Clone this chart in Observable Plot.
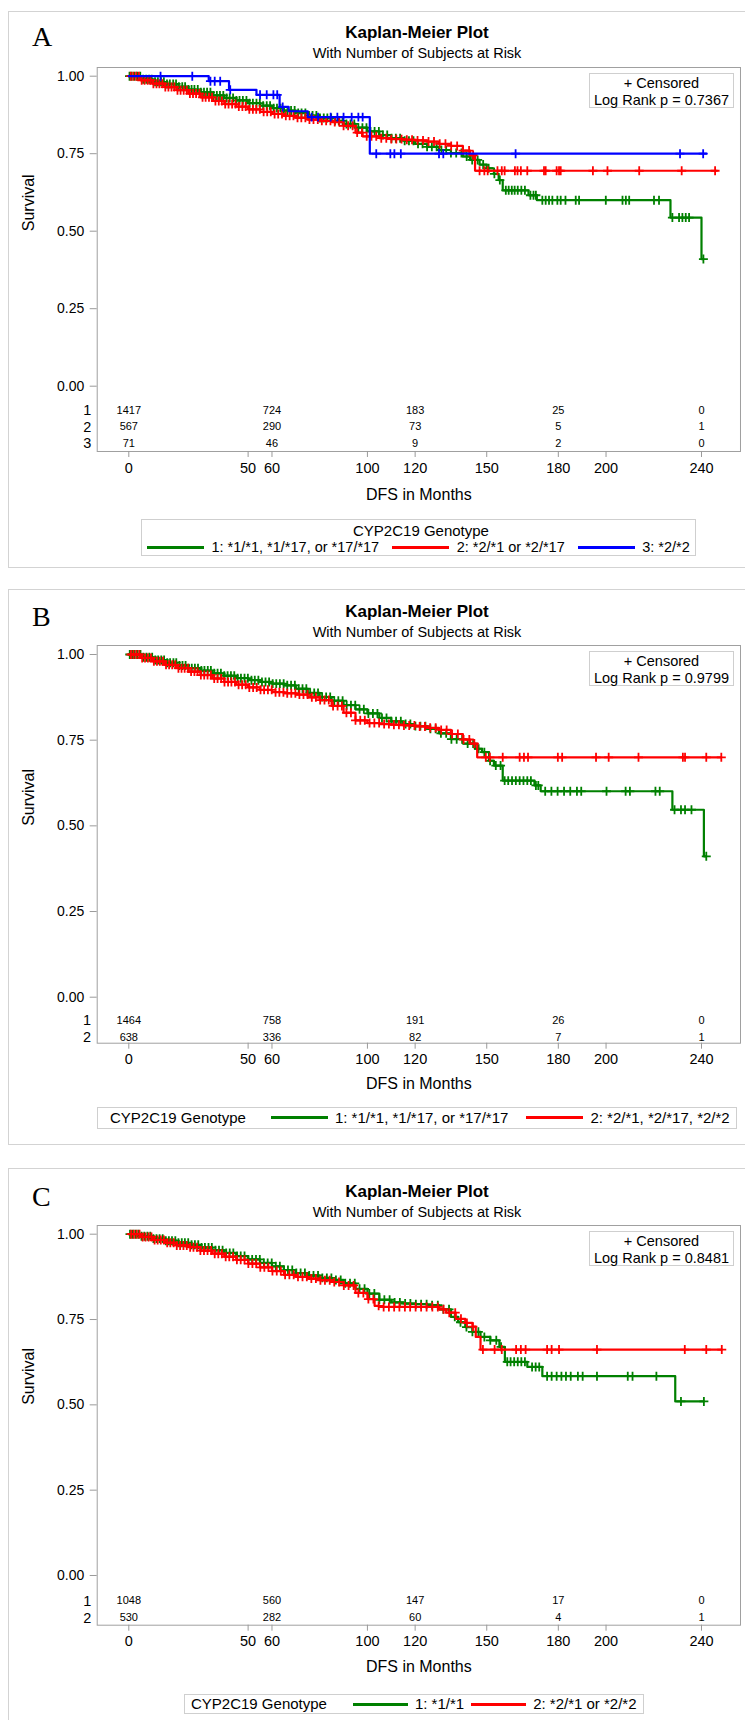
<!DOCTYPE html>
<html><head><meta charset="utf-8">
<script src="https://cdn.jsdelivr.net/npm/d3@7"></script>
<script src="https://cdn.jsdelivr.net/npm/@observablehq/plot@0.6"></script>
<style>
body{margin:0;background:#fff;font-family:"Liberation Sans",Arial,sans-serif;color:#000;}
#page{position:relative;width:745px;height:1720px;overflow:hidden;background:#fff;}
.panel{position:absolute;border:1px solid #d3d3d3;box-sizing:border-box;}
.letter{position:absolute;font-family:"Liberation Serif","Times New Roman",serif;font-size:28px;line-height:28px;}
.ttl{position:absolute;left:217px;width:400px;text-align:center;font-weight:bold;font-size:17px;line-height:20px;white-space:nowrap;}
.sub{position:absolute;left:217px;width:400px;text-align:center;font-size:14.5px;line-height:18px;white-space:nowrap;}
.inset{position:absolute;border:1px solid #cfcfcf;box-sizing:border-box;text-align:center;font-size:14.5px;line-height:16.5px;padding-top:1px;white-space:nowrap;}
.legend{position:absolute;border:1px solid #cfcfcf;box-sizing:border-box;line-height:16px;white-space:nowrap;}
.legend .lt{text-align:center;}
.legend .row{display:flex;align-items:center;}
.sw{display:inline-block;height:3px;}
svg{position:absolute;left:0;}
</style></head>
<body><div id="page"></div>
<script>
const GREEN = "#008000", RED = "#ff0000", BLUE = "#0000ff";

const timeTicks = [0, 50, 60, 100, 120, 150, 180, 200, 240];
const survTicks = [0, 0.25, 0.5, 0.75, 1];
const riskTimes = [0, 60, 120, 180, 240];

// ---------- Panel A ----------
const kmA1 = [[0,1],[5,.99],[10,.982],[15,.975],[20,.966],[25,.957],[30,.948],[35,.938],[40,.93],[45,.922],[50,.913],[55,.905],[60,.897],[65,.889],[70,.881],[75,.873],[80,.865],[85,.856],[90,.846],[95,.834],[100,.822],[105,.81],[110,.8],[115,.792],[120,.782],[125,.772],[130,.762],[135,.752],[140,.741],[143,.73],[147,.715],[150,.703],[153,.685],[155,.665],[156.7,.632],[167.5,.616],[171,.6],[227,.544],[240,.41],[240.8,.41]];
const censA1 = [0.3,1.2,2.4,3.5,4.8,6,7.3,8.5,9.6,11,12.2,13.5,14.7,16,17.2,18.6,19.8,21,22.4,23.6,25,26.3,27.5,28.9,30.2,31.5,32.8,34.2,35.5,36.9,38.2,39.6,41,42.3,43.7,45.1,46.4,47.8,49.3,50.6,52,53.5,54.9,56.3,57.8,59.2,60.7,62.1,63.6,65,66.5,68,69.5,71,72.4,74,75.5,77,78.6,80.1,81.7,83.2,84.8,86.4,88,89.6,91.2,92.9,94.5,96.2,97.9,99.6,101.3,103,104.8,106.5,108.3,110.1,111.9,113.7,115.6,117.4,119.3,121.2,123.1,125,127,129,131,133,135,137.2,139.4,141.6,143.9,146.2,148.5,150.8,153.2,155.5,158,159.2,160.5,161.7,163,164.5,166,168.3,169.6,170.6,173.3,174.7,176.1,177.5,179.6,181,183,187.3,188.7,199.9,206.9,208.3,209.7,220.1,222.2,227.8,230.6,232,233.4,234.8,240.8];
const kmA2 = [[0,1],[5,.987],[10,.976],[15,.965],[20,.955],[25,.944],[30,.932],[35,.92],[40,.91],[45,.902],[50,.893],[55,.885],[60,.878],[65,.872],[70,.866],[75,.86],[80,.856],[85,.852],[90,.84],[95,.818],[98,.806],[105,.8],[110,.797],[115,.795],[120,.793],[125,.789],[130,.782],[135,.775],[140,.76],[143,.745],[145.1,.695],[246.5,.695]];
const censA2 = [0.8,1.9,3.1,4.2,5.4,6.6,7.9,9.1,10.3,11.6,12.8,14.1,15.3,16.6,17.9,19.1,20.4,21.7,23,24.3,25.6,26.9,28.2,29.6,30.9,32.2,33.6,34.9,36.3,37.7,39,40.4,41.8,43.3,44.7,46.1,47.6,49,50.5,52,53.4,54.9,56.5,58,59.5,61.1,62.6,64.2,65.8,67.4,69,70.7,72.3,74,75.7,77.4,79.2,80.9,82.7,84.5,86.3,88.2,90,91.9,93.8,95.7,97.7,99.7,101.7,103.7,105.8,107.9,110,112.1,114.3,116.5,118.7,121,123.3,125.6,127.9,130.3,132.7,135.1,137.6,140.1,142.6,144.3,147,149,150.4,154.5,156.3,157.5,161.8,162.9,164.3,167,174,174.7,179.3,180.3,181,194.5,200.6,213.9,231.7,245.7];
const kmA3 = [[0,1],[33.5,.984],[42,.956],[53.5,.94],[63.2,.901],[67,.887],[75,.868],[101,.75],[242,.75]];
const censA3 = [13.3,26.6,34.2,36,38.3,42.5,55,57.8,60.6,62.2,64.5,76.6,79.3,84.6,87.4,90,93.4,96.2,98,103.7,109.6,111.3,114,130,131.8,162.1,231,240.7];
const riskA1 = [1417, 724, 183, 25, 0];
const riskA2 = [567, 290, 73, 5, 1];
const riskA3 = [71, 46, 9, 2, 0];

// ---------- Panel B ----------
const kmB1 = [[0,1],[5,.992],[10,.984],[15,.976],[20,.968],[25,.96],[30,.953],[35,.945],[40,.938],[45,.931],[50,.925],[55,.92],[60,.915],[65,.91],[70,.9],[75,.888],[80,.876],[85,.865],[90,.852],[95,.84],[100,.828],[105,.815],[110,.805],[115,.797],[120,.791],[125,.783],[130,.77],[135,.753],[140,.74],[145,.725],[148,.715],[151,.69],[153,.676],[156.7,.632],[170,.618],[172.6,.601],[227.8,.547],[241,.411],[242,.411]];
const censB1 = [0.4,1.4,2.5,3.7,4.9,6.1,7.4,8.6,9.8,11.1,12.3,13.6,14.8,16.1,17.3,18.7,19.9,21.2,22.5,23.8,25.1,26.4,27.7,29,30.4,31.7,33.1,34.4,35.8,37.2,38.6,40,41.4,42.8,44.2,45.6,47,48.5,49.9,51.4,52.8,54.3,55.8,57.3,58.8,60.3,61.8,63.3,64.9,66.4,68,69.6,71.2,72.8,74.4,76,77.7,79.3,81,82.7,84.4,86.1,87.8,89.6,91.3,93.1,94.9,96.7,98.5,100.4,102.3,104.2,106.1,108,110,112,114,116,118,120.1,122.2,124.3,126.4,128.6,130.8,133,135.2,137.4,139.7,142,144.3,146.6,149,151.4,153.8,155.8,157.5,159,160.6,162.2,163.8,165.4,167,168.5,170.6,171.6,174.5,177.1,179.7,182.4,185,187.8,189.6,200.2,208.2,210,220.7,222.5,228.7,231.4,233.1,235.8,242];
const kmB2 = [[0,1],[5,.99],[10,.98],[15,.97],[20,.96],[25,.95],[30,.94],[35,.93],[40,.92],[45,.912],[50,.904],[55,.897],[60,.89],[65,.887],[70,.883],[75,.875],[80,.867],[85,.85],[90,.83],[95,.808],[100,.8],[105,.797],[110,.795],[115,.793],[120,.79],[125,.786],[130,.78],[135,.768],[140,.752],[143,.74],[146,.7],[248.3,.7]];
const censB2 = [0.9,2,3.2,4.4,5.6,6.8,8,9.3,10.5,11.8,13,14.3,15.6,16.9,18.2,19.5,20.8,22.1,23.4,24.8,26.1,27.5,28.8,30.2,31.6,33,34.4,35.8,37.2,38.7,40.1,41.6,43,44.5,46,47.5,49,50.5,52.1,53.6,55.2,56.7,58.3,59.9,61.5,63.1,64.8,66.4,68.1,69.8,71.5,73.2,74.9,76.7,78.4,80.2,82,83.8,85.6,87.5,89.3,91.2,93.1,95,97,98.9,100.9,102.9,104.9,107,109,111.1,113.2,115.3,117.5,119.7,121.9,124.1,126.3,128.6,130.9,133.2,135.5,137.9,140.3,142.7,144.8,149.6,151.3,156.7,163.8,165.6,167.3,179.8,181.6,195.8,201.1,213.6,232.2,233.1,242,248.3];
const riskB1 = [1464, 758, 191, 26, 0];
const riskB2 = [638, 336, 82, 7, 1];

// ---------- Panel C ----------
const kmC1 = [[0,1],[5,.994],[10,.987],[15,.981],[20,.975],[25,.969],[30,.961],[35,.953],[40,.945],[45,.936],[50,.926],[55,.916],[60,.906],[65,.895],[70,.886],[75,.879],[80,.872],[85,.866],[90,.856],[95,.84],[100,.826],[105,.808],[110,.8],[115,.797],[120,.795],[125,.792],[130,.78],[135,.758],[138,.742],[141,.728],[144,.714],[147.4,.699],[151.5,.689],[155.3,.67],[157.6,.626],[167,.611],[173.3,.584],[229,.51],[241,.51]];
const censC1 = [0.5,1.6,2.8,4,5.3,6.5,7.8,9,10.3,11.6,12.9,14.2,15.5,16.8,18.1,19.5,20.8,22.2,23.5,24.9,26.3,27.7,29.1,30.5,31.9,33.4,34.8,36.3,37.8,39.3,40.8,42.3,43.8,45.4,46.9,48.5,50.1,51.7,53.3,54.9,56.6,58.2,59.9,61.6,63.3,65,66.7,68.5,70.2,72,73.8,75.6,77.4,79.3,81.1,83,84.9,86.8,88.8,90.7,92.7,94.7,96.7,98.8,100.8,102.9,105,107.1,109.3,111.4,113.6,115.8,118,120.3,122.5,124.8,127.1,129.5,131.8,134.2,136.6,139,141.5,144,146.5,149,151.5,154,156,158.6,160,161.5,163,164.5,166,169,170.5,172,175.3,177.2,179.3,181.3,183.2,185.2,188.2,190.2,196.2,209.1,211.1,221.1,231.4,241];
const kmC2 = [[0,1],[5,.992],[10,.983],[15,.975],[20,.967],[25,.962],[30,.952],[35,.943],[40,.934],[45,.925],[50,.914],[55,.903],[60,.892],[65,.881],[70,.875],[75,.87],[80,.865],[85,.86],[90,.85],[95,.828],[100,.81],[103,.79],[105,.787],[130,.78],[133,.77],[137,.752],[141,.74],[144,.729],[145.4,.699],[147.4,.662],[248.5,.662]];
const censC2 = [1,2.1,3.3,4.5,5.8,7,8.3,9.5,10.8,12.1,13.4,14.7,16.1,17.4,18.8,20.1,21.5,22.9,24.3,25.7,27.1,28.6,30,31.5,33,34.5,36,37.5,39,40.6,42.1,43.7,45.3,46.9,48.5,50.1,51.8,53.4,55.1,56.8,58.5,60.2,62,63.7,65.5,67.3,69.1,70.9,72.8,74.6,76.5,78.4,80.3,82.2,84.2,86.1,88.1,90.1,92.1,94.2,96.2,98.3,100.4,102.5,104.7,106.8,109,111.2,113.4,115.7,117.9,120.2,122.5,124.8,127.2,129.5,131.9,134.3,136.8,139.2,141.7,144.2,148.4,153.3,156.3,162.3,164.3,166.3,175.3,177.2,180.3,196.2,233,242,248.5];
const riskC1 = [1048, 560, 147, 17, 0];
const riskC2 = [530, 282, 60, 4, 1];

// ---------- helpers ----------
function survAt(km, t) {
  let s = km[0][1];
  for (const [tt, v] of km) { if (tt <= t) s = v; else break; }
  return s;
}
const page = document.getElementById("page");
function el(cls, css, html) {
  const d = document.createElement("div");
  d.className = cls;
  Object.assign(d.style, css);
  if (html != null) d.innerHTML = html;
  page.appendChild(d);
  return d;
}
const FRAME_L = 96.7, FRAME_R = 740, X0PX = 128.3, X240PX = 701;
const pxPerMonth = (X240PX - X0PX) / 240;
const xDomain = [(FRAME_L - X0PX) / pxPerMonth, (FRAME_R - X0PX) / pxPerMonth];

function makePanel(cfg) {
  el("panel", {left: "8px", top: cfg.top + "px", width: "745px", height: (cfg.bottom - cfg.top) + "px"});
  el("letter", {left: "32px", top: (cfg.letterBase - 23.4) + "px"}, cfg.letter);
  el("ttl", {top: (cfg.titleY - 10) + "px"}, "Kaplan-Meier Plot");
  el("sub", {top: (cfg.subY - 9) + "px"}, "With Number of Subjects at Risk");

  const pxUnit = cfg.y0 - cfg.y1;
  const yMax = 1 + (cfg.y1 - cfg.frameTop) / pxUnit;
  const yMin = -(cfg.frameBottom - cfg.y0) / pxUnit;
  const svgTop = cfg.frameTop - 2;
  const svgBottom = cfg.dfsY + 14;
  const H = svgBottom - svgTop;

  const marks = [];
  cfg.series.forEach(s => {
    marks.push(Plot.line(s.km, {x: d => d[0], y: d => d[1], curve: "step-after", stroke: s.color, strokeWidth: 2.2}));
    marks.push(Plot.dot(s.cens, {x: d => d, y: d => survAt(s.km, d), symbol: "plus", r: 3, stroke: s.color, strokeWidth: 1.8}));
  });
  marks.push(Plot.frame({stroke: "#a0a0a0"}));
  marks.push(Plot.axisY(survTicks, {tickFormat: d3.format(".2f"), tickSize: 7, tickPadding: 6, fontSize: 14, stroke: "#9a9a9a", fill: "#000", label: null}));
  marks.push(Plot.axisX(timeTicks, {anchor: "bottom", tickSize: 6, tickPadding: 5, fontSize: 14.5, stroke: "#9a9a9a", fill: "#000", label: null}));
  marks.push(Plot.text([0.5], {y: d => d, text: () => "Survival", frameAnchor: "left", dx: -68, rotate: -90, fontSize: 16, fill: "#000"}));
  marks.push(Plot.text(["DFS in Months"], {frameAnchor: "bottom", dy: cfg.dfsY - cfg.frameBottom, fontSize: 16, fill: "#000"}));
  cfg.risk.forEach((row, i) => {
    marks.push(Plot.text(riskTimes, {x: d => d, y: () => 0, dy: cfg.rowDy[i], text: (d, j) => String(row[j]), fontSize: 11, fill: "#000"}));
    marks.push(Plot.text([String(i + 1)], {y: () => 0, frameAnchor: "left", dx: -6, dy: cfg.rowDy[i], textAnchor: "end", fontSize: 14.5, fill: "#000"}));
  });

  const svg = Plot.plot({
    width: 745, height: H,
    marginLeft: FRAME_L, marginRight: 745 - FRAME_R,
    marginTop: cfg.frameTop - svgTop, marginBottom: svgBottom - cfg.frameBottom,
    x: {domain: xDomain},
    y: {domain: [yMin, yMax]},
    style: {fontFamily: '"Liberation Sans", Arial, sans-serif', color: "#000", background: "transparent", overflow: "visible"},
    marks
  });
  svg.style.top = svgTop + "px";
  page.appendChild(svg);

  el("inset", {left: "589px", top: (cfg.frameTop + 6) + "px", width: "145px", height: "35px"},
     "+ Censored<br>Log Rank p = " + cfg.p);

  const lg = cfg.legend;
  const items = cfg.series.map((s, i) =>
    `<span class="sw" style="width:${lg.sw}px;background:${s.color};margin-right:${lg.g1}px"></span><span style="margin-right:${i < cfg.series.length - 1 ? lg.g2 : 0}px">${cfg.labels[i]}</span>`
  ).join("");
  if (lg.stacked) {
    el("legend", {left: lg.left + "px", top: lg.top + "px", width: lg.width + "px", height: lg.height + "px", paddingTop: "3px", paddingLeft: lg.pad + "px", fontSize: lg.fs + "px"},
       `<div class="lt" style="font-size:15px">CYP2C19 Genotype</div><div class="row">${items}</div>`);
  } else {
    el("legend", {left: lg.left + "px", top: lg.top + "px", height: lg.height + "px", paddingLeft: lg.pad + "px", paddingRight: lg.padR + "px", display: "flex", alignItems: "center", fontSize: lg.fs + "px"},
       `<span style="margin-right:${lg.g0}px">CYP2C19 Genotype</span>${items}`);
  }
}

makePanel({
  letter: "A", top: 11, bottom: 568, letterBase: 46.7, titleY: 33, subY: 53.3,
  frameTop: 67.3, y1: 76, y0: 386, frameBottom: 451.3, rowDy: [24, 40.7, 57.3], dfsY: 500,
  p: "0.7367",
  series: [{km: kmA1, cens: censA1, color: GREEN}, {km: kmA2, cens: censA2, color: RED}, {km: kmA3, cens: censA3, color: BLUE}],
  risk: [riskA1, riskA2, riskA3],
  labels: ["1: *1/*1, *1/*17, or *17/*17", "2: *2/*1 or *2/*17", "3: *2/*2"],
  legend: {stacked: true, left: 141, top: 519, width: 555, height: 37, pad: 5, fs: 14.5, sw: 57, g1: 7.5, g2: 13}
});
makePanel({
  letter: "B", top: 589.3, bottom: 1145, letterBase: 626.5, titleY: 611.7, subY: 631.7,
  frameTop: 645, y1: 654, y0: 996.7, frameBottom: 1042.7, rowDy: [23.3, 40], dfsY: 1088,
  p: "0.9799",
  series: [{km: kmB1, cens: censB1, color: GREEN}, {km: kmB2, cens: censB2, color: RED}],
  risk: [riskB1, riskB2],
  labels: ["1: *1/*1, *1/*17, or *17/*17", "2: *2/*1, *2/*17, *2/*2"],
  legend: {stacked: false, left: 97, top: 1106.7, height: 22, pad: 12, padR: 6, fs: 15, g0: 25, sw: 57, g1: 7, g2: 18}
});
makePanel({
  letter: "C", top: 1167.5, bottom: 1760, letterBase: 1206.2, titleY: 1191.5, subY: 1211.5,
  frameTop: 1225.3, y1: 1234, y0: 1575.3, frameBottom: 1625, rowDy: [25.4, 42.4], dfsY: 1671.7,
  p: "0.8481",
  series: [{km: kmC1, cens: censC1, color: GREEN}, {km: kmC2, cens: censC2, color: RED}],
  risk: [riskC1, riskC2],
  labels: ["1: *1/*1", "2: *2/*1 or *2/*2"],
  legend: {stacked: false, left: 184, top: 1694, height: 20, pad: 6, padR: 6, fs: 15, g0: 26, sw: 55, g1: 7, g2: 7}
});
</script>
</body></html>
